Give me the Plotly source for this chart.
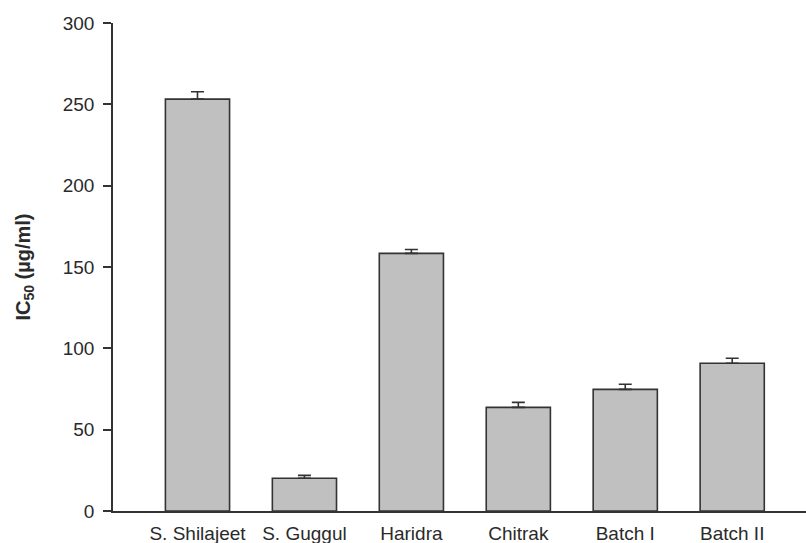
import plotly.graph_objects as go

# IC50 values (µg/ml) with standard error
samples = ["S. Shilajeet", "S. Guggul", "Haridra", "Chitrak", "Batch I", "Batch II"]
ic50 = [253.2, 20.1, 158.4, 63.7, 74.8, 90.8]
ic50_err = [4.5, 1.8, 2.4, 3.1, 3.1, 3.1]
y_ticks = [0, 50, 100, 150, 200, 250, 300]

line_col = "#333333"
font_family = "Liberation Sans, Arial, sans-serif"

fig = go.Figure(
    go.Bar(
        x=list(range(len(samples))),
        y=ic50,
        width=0.6,
        marker=dict(color="#c0c0c0", line=dict(color=line_col, width=1.6)),
        error_y=dict(
            type="data",
            array=ic50_err,
            arrayminus=[0] * len(ic50_err),
            symmetric=False,
            color=line_col,
            thickness=1.6,
            width=6.5,
        ),
    )
)

fig.update_layout(
    width=806,
    height=543,
    margin=dict(l=113, r=0, t=23, b=32),
    plot_bgcolor="white",
    paper_bgcolor="white",
    showlegend=False,
    font=dict(family=font_family, size=19, color="#333333"),
)

fig.update_xaxes(
    range=[-0.79, 5.69],
    tickmode="array",
    tickvals=list(range(len(samples))),
    ticktext=samples,
    ticks="",
    ticklabelstandoff=4,
    showgrid=False,
    zeroline=False,
    showline=True,
    linecolor=line_col,
    linewidth=1.6,
    tickfont=dict(size=19, color="#2a2a2a"),
)

fig.update_yaxes(
    range=[0, 300],
    tickmode="array",
    tickvals=y_ticks,
    ticks="outside",
    ticklen=8,
    tickwidth=1.6,
    tickcolor=line_col,
    ticklabelstandoff=5,
    showgrid=False,
    zeroline=False,
    showline=True,
    linecolor=line_col,
    linewidth=1.6,
    tickfont=dict(size=19, color="#2a2a2a"),
    title=dict(
        text="<b>IC<sub>50</sub> (µg/ml)</b>",
        font=dict(size=20, color="#2a2a2a"),
        standoff=27,
    ),
)

fig.write_html("out.html")
